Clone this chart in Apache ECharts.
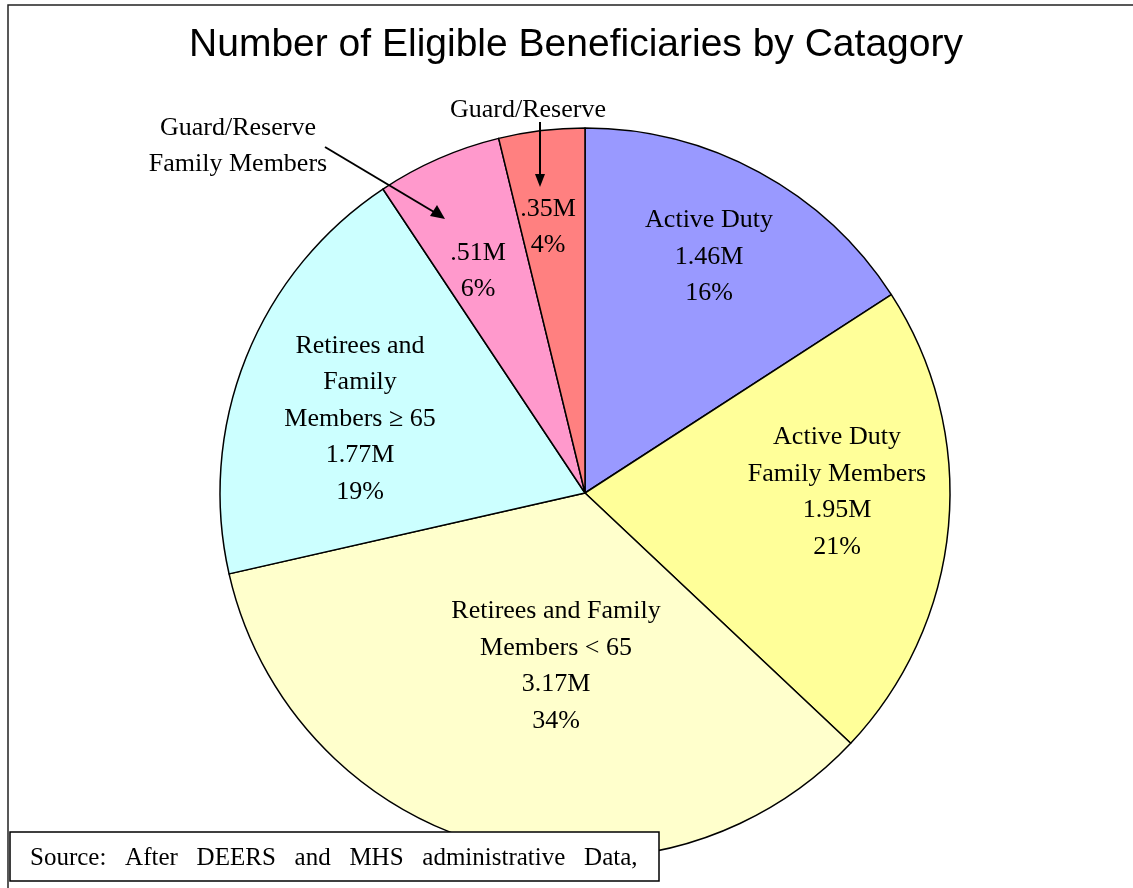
<!DOCTYPE html>
<html>
<head>
<meta charset="utf-8">
<script src="https://cdn.jsdelivr.net/npm/echarts@6/dist/echarts.min.js"></script>
<style>
  html, body { margin: 0; padding: 0; background: #fff; }
  #chart { width: 1133px; height: 888px; }
</style>
</head>
<body>
<div id="chart"></div>
<script>
// data, clockwise from 12 o'clock
const categories = [
  'Active Duty',
  'Active Duty\nFamily Members',
  'Retirees and Family\nMembers < 65',
  'Retirees and\nFamily\nMembers \u2265 65',
  'Guard/Reserve\nFamily Members',
  'Guard/Reserve'
]
const values = [1.46, 1.95, 3.17, 1.77, 0.51, 0.35]
const valueLabels = ['1.46M', '1.95M', '3.17M', '1.77M', '.51M', '.35M']
const colors = ['#9999ff', '#ffff99', '#ffffcc', '#ccffff', '#ff99cc', '#ff8080']
// the two small slices carry their name outside, with an arrow
const namedOutside = [false, false, false, false, true, true]

// label centres (layout only)
const labelPos = [[709, 257], [837, 492], [556, 666], [360, 419], [478, 271], [548, 227]]

let myChart = echarts.init(document.getElementById('chart'))

const serif = '"Liberation Serif", "Times New Roman", serif'

let option = {
  backgroundColor: '#fff',
  animation: false,
  title: {
    text: 'Number of Eligible Beneficiaries by Catagory',
    left: 571,
    top: 21,
    textAlign: 'center',
    textStyle: {
      fontFamily: '"Liberation Sans", Arial, sans-serif',
      fontSize: 39,
      fontWeight: 'normal',
      color: '#000'
    }
  },
  series: [
    {
      type: 'pie',
      center: [585, 493],
      radius: 365,
      startAngle: 90,
      clockwise: true,
      percentPrecision: 0,
      silent: true,
      emphasis: { disabled: true },
      itemStyle: { borderColor: '#000', borderWidth: 1.5 },
      label: {
        position: 'inside',
        fontFamily: serif,
        fontSize: 26,
        lineHeight: 36.5,
        color: '#000',
        align: 'center',
        verticalAlign: 'middle',
        formatter: (p) => {
          let v = valueLabels[p.dataIndex] + '\n' + p.percent + '%'
          if (namedOutside[p.dataIndex]) return v
          return p.name + '\n' + v
        }
      },
      labelLine: { show: false },
      labelLayout: (p) => ({
        x: labelPos[p.dataIndex][0],
        y: labelPos[p.dataIndex][1]
      }),
      data: values.map((v, i) => ({
        name: categories[i],
        value: v,
        itemStyle: { color: colors[i] }
      })),
      z: 1
    }
  ],
  graphic: [
    // frame
    { type: 'polyline', shape: { points: [[8, 888], [8, 5], [1133, 5]] }, style: { stroke: '#222', lineWidth: 1.5, fill: null }, z: 10 },
    // outside labels
    { type: 'text', x: 528, y: 110, style: { text: 'Guard/Reserve', font: '26px ' + serif, fill: '#000', align: 'center', verticalAlign: 'middle' }, z: 10 },
    { type: 'text', x: 238, y: 146, style: { text: 'Guard/Reserve\nFamily Members', font: '26px ' + serif, lineHeight: 36, fill: '#000', align: 'center', verticalAlign: 'middle' }, z: 10 },
    // arrows
    { type: 'line', shape: { x1: 540, y1: 122, x2: 540, y2: 176 }, style: { stroke: '#000', lineWidth: 2 }, z: 10 },
    { type: 'polygon', shape: { points: [[535, 174], [545, 174], [540, 187]] }, style: { fill: '#000' }, z: 10 },
    { type: 'line', shape: { x1: 325, y1: 147, x2: 434, y2: 212 }, style: { stroke: '#000', lineWidth: 2 }, z: 10 },
    { type: 'polygon', shape: { points: [[430, 216], [437, 205], [445, 219]] }, style: { fill: '#000' }, z: 10 },
    // source box
    { type: 'rect', shape: { x: 10, y: 832, width: 649, height: 49 }, style: { fill: '#fff', stroke: '#000', lineWidth: 1.5 }, z: 20 },
    { type: 'text', x: 30, y: 858, style: { text: 'Source:   After   DEERS   and   MHS   administrative   Data,', font: '25px ' + serif, fill: '#000', align: 'left', verticalAlign: 'middle' }, z: 21 }
  ]
}
myChart.setOption(option)
</script>
</body>
</html>
